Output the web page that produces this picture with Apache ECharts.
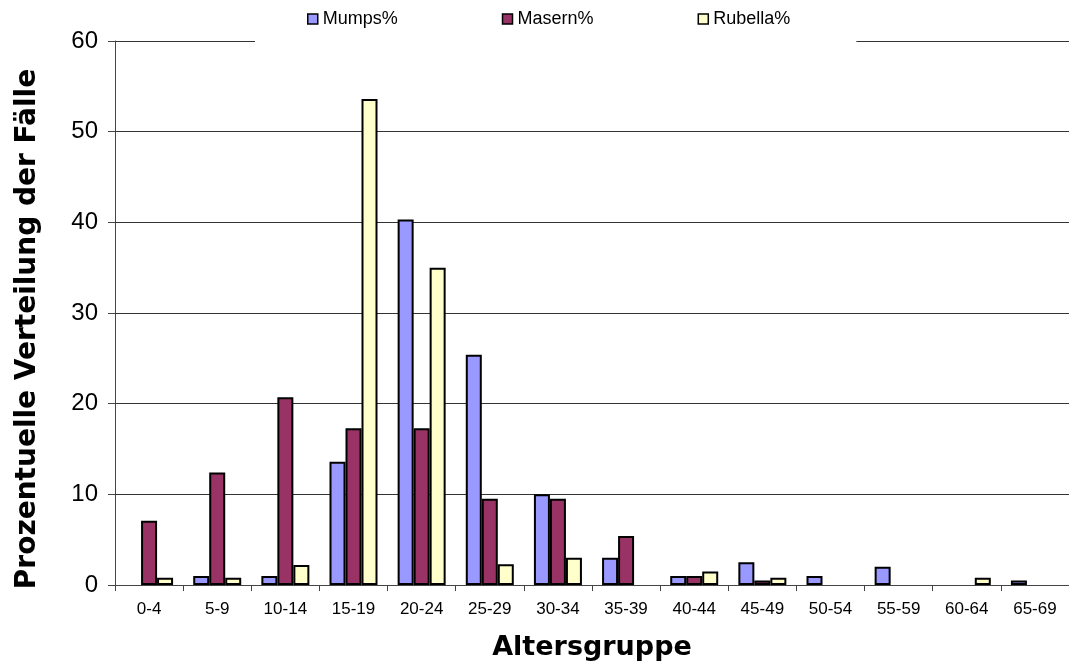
<!DOCTYPE html>
<html>
<head>
<meta charset="utf-8">
<script src="https://cdn.jsdelivr.net/npm/echarts@6/dist/echarts.min.js"></script>
<style>
  html, body { margin: 0; padding: 0; background: #fff; }
  #chart { width: 1069px; height: 666px; }
</style>
</head>
<body>
<div id="chart"></div>
<script>
// Age groups (years)
const categories = ['0-4', '5-9', '10-14', '15-19', '20-24', '25-29', '30-34',
  '35-39', '40-44', '45-49', '50-54', '55-59', '60-64', '65-69'];

// Percentage distribution of cases per age group
const mumps   = [0, 1.0, 1.0, 13.6, 40.3, 25.4, 10.0, 3.0, 1.0, 2.5, 1.0, 2.0, 0, 0.5];
const masern  = [7.1, 12.4, 20.7, 17.3, 17.3, 9.5, 9.5, 5.4, 1.0, 0.5, 0, 0, 0, 0];
const rubella = [0.8, 0.8, 2.2, 53.6, 35.0, 2.3, 3.0, 0, 1.5, 0.8, 0, 0, 0.8, 0];

const seriesNames = ['Mumps%', 'Masern%', 'Rubella%'];
const seriesColors = ['#9999FF', '#993366', '#FFFFCC'];

const yTicks = { min: 0, max: 60, interval: 10 };

const SANS = '"Liberation Sans", Arial, Helvetica, sans-serif';
const TITLE_FONT = '"DejaVu Sans", "Liberation Sans", Arial, sans-serif';

const chart = echarts.init(document.getElementById('chart'), null, { renderer: 'canvas' });

// Zero-height bars get no outline so nothing is drawn on the baseline for them
function withHiddenZeros(values) {
  return values.map(function (v) {
    return v === 0 ? { value: v, itemStyle: { borderWidth: 0 } } : v;
  });
}

function barSeries(name, data, color) {
  return {
    name: name,
    type: 'bar',
    data: withHiddenZeros(data),
    barWidth: 16,
    barGap: '0%',
    itemStyle: { color: color, borderColor: '#000', borderWidth: 2 },
    emphasis: { disabled: true }
  };
}

chart.setOption({
  animation: false,
  backgroundColor: '#fff',
  textStyle: { fontFamily: SANS, color: '#000' },
  grid: { left: 115, right: -11, top: 41, bottom: 80, containLabel: false },
  legend: {
    data: seriesNames,
    left: 255,
    top: 4,
    padding: [6, 66, 17, 52],
    backgroundColor: '#fff',
    icon: 'rect',
    itemWidth: 10,
    itemHeight: 10,
    itemGap: 104,
    itemStyle: { borderColor: '#000', borderWidth: 1.5 },
    textStyle: { fontFamily: SANS, fontSize: 18, color: '#000' }
  },
  xAxis: {
    type: 'category',
    data: categories,
    name: 'Altersgruppe',
    nameLocation: 'middle',
    nameGap: 49,
    nameTextStyle: { fontFamily: TITLE_FONT, fontWeight: 'bold', fontSize: 27, color: '#000' },
    axisLine: { lineStyle: { color: '#444', width: 1 } },
    axisTick: { show: true, alignWithLabel: false, length: 6, lineStyle: { color: '#444' } },
    axisLabel: { fontFamily: SANS, fontSize: 17, color: '#000', margin: 16, interval: 0 },
    splitLine: { show: false }
  },
  yAxis: {
    type: 'value',
    min: yTicks.min,
    max: yTicks.max,
    interval: yTicks.interval,
    name: 'Prozentuelle Verteilung der Fälle',
    nameLocation: 'middle',
    nameGap: 73,
    nameTextStyle: { fontFamily: TITLE_FONT, fontWeight: 'bold', fontSize: 28, color: '#000', padding: [0, 32, 0, 0] },
    axisLine: { show: true, lineStyle: { color: '#444', width: 1 } },
    axisTick: { show: true, length: 7, lineStyle: { color: '#444' } },
    axisLabel: { fontFamily: SANS, fontSize: 24, color: '#000', margin: 17 },
    splitLine: { show: true, lineStyle: { color: '#333', width: 1 } }
  },
  series: [
    barSeries(seriesNames[0], mumps, seriesColors[0]),
    barSeries(seriesNames[1], masern, seriesColors[1]),
    barSeries(seriesNames[2], rubella, seriesColors[2])
  ]
});
</script>
</body>
</html>
